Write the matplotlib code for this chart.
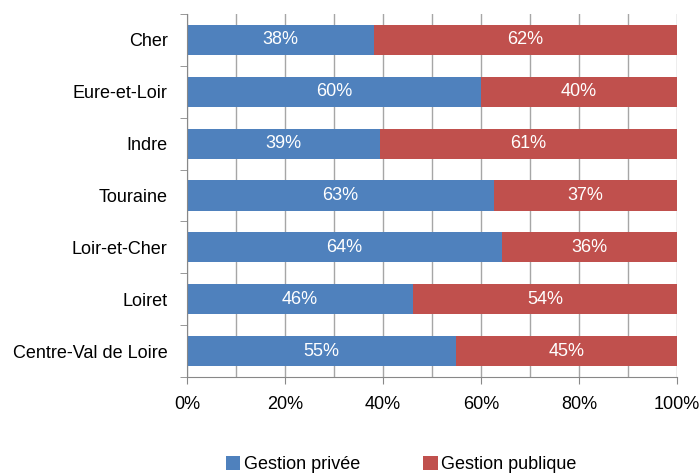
import numpy as np
import matplotlib.pyplot as plt

plt.rcParams['font.family'] = ['Liberation Sans', 'DejaVu Sans']

regions = ["Cher", "Eure-et-Loir", "Indre", "Touraine", "Loir-et-Cher", "Loiret", "Centre-Val de Loire"]
privee = [38.2, 60.0, 39.4, 62.6, 64.3, 46.1, 54.9]
privee_labels = ["38%", "60%", "39%", "63%", "64%", "46%", "55%"]
publique_labels = ["62%", "40%", "61%", "37%", "36%", "54%", "45%"]

blue = "#4F81BD"
red = "#C0504D"
FS = 13

fig = plt.figure(figsize=(6.99, 4.75), dpi=100)
ax = fig.add_axes([187 / 699, 98 / 475, 490 / 699, 363 / 475])

y = np.arange(len(regions))
priv = np.array(privee)
pub = 100 - priv
ax.barh(y, priv, height=0.58, color=blue, label="Gestion privée", zorder=2)
ax.barh(y, pub, left=priv, height=0.58, color=red, label="Gestion publique", zorder=2)

for i in range(len(regions)):
    ax.text(priv[i] / 2, y[i], privee_labels[i], color="white", ha="center", va="center", fontsize=FS, zorder=3)
    ax.text(priv[i] + pub[i] / 2, y[i], publique_labels[i], color="white", ha="center", va="center", fontsize=FS, zorder=3)

ax.set_xlim(0, 100)
ax.set_ylim(len(regions) - 0.5, -0.5)
ax.set_xticks(np.arange(0, 101, 20))
ax.set_xticklabels([f"{v}%" for v in range(0, 101, 20)], fontsize=FS)
ax.set_xticks(np.arange(0, 101, 10), minor=True)
ax.tick_params(axis="x", which="minor", length=0)
ax.tick_params(axis="x", which="major", length=5, color="#888888", pad=9)
ax.grid(axis="x", which="both", color="#A6A6A6", linewidth=1, zorder=0)

ax.set_yticks(y)
ax.set_yticklabels(regions, fontsize=FS)
ax.set_yticks(np.arange(-0.5, len(regions), 1), minor=True)
ax.tick_params(axis="y", which="major", length=0, pad=14)
ax.tick_params(axis="y", which="minor", length=5, color="#888888")

for s in ["top", "right"]:
    ax.spines[s].set_visible(False)
for s in ["left", "bottom"]:
    ax.spines[s].set_color("#888888")

# legend kept fully inside the figure
fig.legend(loc="lower center", bbox_to_anchor=(0.574, -0.03), ncol=2, frameon=False,
           fontsize=FS, handlelength=0.8, handleheight=0.8, handletextpad=0.2, columnspacing=3.5)

fig.savefig("out.png", dpi=100)
